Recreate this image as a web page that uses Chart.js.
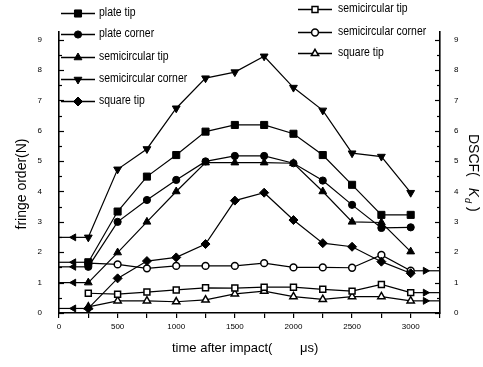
<!DOCTYPE html>
<html>
<head>
<meta charset="utf-8">
<script src="https://cdn.jsdelivr.net/npm/chart.js@4/dist/chart.umd.min.js"></script>
<style>
html,body{margin:0;padding:0;background:#fff;}
canvas{display:block;}
</style>
</head>
<body>
<canvas id="c" width="483" height="367"></canvas>
<script>
// ---- data ----
const categories = [250, 500, 750, 1000, 1250, 1500, 1750, 2000, 2250, 2500, 2750, 3000];
// fringe order (left axis, filled markers)
const plateTip           = [1.67, 3.34, 4.49, 5.20, 5.97, 6.19, 6.19, 5.90, 5.20, 4.22, 3.23, 3.23];
const plateCorner        = [1.52, 3.00, 3.72, 4.38, 4.99, 5.17, 5.17, 4.93, 4.36, 3.56, 2.80, 2.82];
const semicircularTip    = [1.00, 1.99, 3.00, 4.00, 4.95, 4.95, 4.95, 4.93, 4.00, 3.00, 2.98, 2.02];
const semicircularCorner = [2.49, 4.73, 5.40, 6.74, 7.73, 7.93, 8.45, 7.42, 6.67, 5.26, 5.15, 3.96];
const squareTip          = [0.15, 1.14, 1.71, 1.83, 2.27, 3.70, 3.96, 3.06, 2.30, 2.18, 1.69, 1.31];
// DSCF (right axis, open markers)
const semicircularTipDSCF    = [0.65, 0.62, 0.69, 0.76, 0.83, 0.82, 0.85, 0.85, 0.78, 0.72, 0.94, 0.67];
const semicircularCornerDSCF = [1.64, 1.60, 1.47, 1.55, 1.55, 1.55, 1.64, 1.50, 1.50, 1.49, 1.91, 1.39];
const squareTipDSCF          = [0.20, 0.40, 0.40, 0.37, 0.43, 0.63, 0.72, 0.54, 0.45, 0.54, 0.54, 0.40];

const xTicks = [0, 500, 1000, 1500, 2000, 2500, 3000];
const yTicks = [0, 1, 2, 3, 4, 5, 6, 7, 8, 9];
const xMin = 0, xMax = 3250, yMin = 0, yMax = 9.25;

// ---- build datasets ----
const pts = arr => arr.map((v, i) => ({x: categories[i], y: v}));
function series(label, arr, axis, style, rot, radius, filled) {
  return {
    label, data: pts(arr), yAxisID: axis,
    borderColor: '#000', borderWidth: 1.2,
    pointStyle: style, pointRotation: rot, pointRadius: radius, pointHoverRadius: radius,
    pointBackgroundColor: filled ? '#000' : '#fff', pointBorderColor: '#000',
    pointBorderWidth: filled ? 1 : 1.5, fill: false, tension: 0, isMain: true
  };
}
const mains = [
  series('plate tip', plateTip, 'y', 'rect', 0, 5, true),
  series('plate corner', plateCorner, 'y', 'circle', 0, 3.6, true),
  series('semicircular tip', semicircularTip, 'y', 'triangle', 0, 4.5, true),
  series('semicircular corner', semicircularCorner, 'y', 'triangle', 180, 4.5, true),
  series('square tip', squareTip, 'y', 'rectRot', 0, 4.5, true),
  series('semicircular tip', semicircularTipDSCF, 'y2', 'rect', 0, 4.2, false),
  series('semicircular corner', semicircularCornerDSCF, 'y2', 'circle', 0, 3.4, false),
  series('square tip', squareTipDSCF, 'y2', 'triangle', 0, 4.2, false)
];
// arrows pointing each curve to its axis (from the series' own end values)
function arrow(arr, axis, toLeft) {
  const first = toLeft ? categories[0] : categories[categories.length - 1];
  const v = toLeft ? arr[0] : arr[arr.length - 1];
  const end = toLeft ? xMin : xMax;
  const mid = (first + end) / 2;
  return {
    data: [{x: end, y: v}, {x: mid, y: v}, {x: first, y: v}], yAxisID: axis,
    borderColor: '#000', borderWidth: 1.2, pointStyle: 'triangle',
    pointRotation: toLeft ? -90 : 90, pointRadius: [0, 4, 0], pointHoverRadius: [0, 4, 0],
    pointBackgroundColor: '#000', pointBorderColor: '#000', pointBorderWidth: 1, fill: false
  };
}
const arrows = [
  arrow(plateTip, 'y', true), arrow(plateCorner, 'y', true), arrow(semicircularTip, 'y', true),
  arrow(semicircularCorner, 'y', true), arrow(squareTip, 'y', true),
  arrow(semicircularTipDSCF, 'y2', false), arrow(semicircularCornerDSCF, 'y2', false),
  arrow(squareTipDSCF, 'y2', false)
];

const FONT = "'Liberation Sans', Arial, sans-serif";

function narrowText(ctx, text, x, y, sx) {
  ctx.save(); ctx.translate(x, y); ctx.scale(sx, 1); ctx.fillText(text, 0, 0); ctx.restore();
}

// ---- custom drawing: inward ticks, legends, axis titles ----
const deco = {
  id: 'deco',
  afterDraw(chart) {
    const ctx = chart.ctx;
    const H = Chart.helpers;
    ctx.save();
    ctx.strokeStyle = '#000'; ctx.fillStyle = '#000'; ctx.lineWidth = 1.2;
    // inward ticks on both y axes
    const yl = chart.scales.y, yr = chart.scales.y2, ca = chart.chartArea;
    for (let v = yMin; v <= 9; v += 0.5) {
      const len = Number.isInteger(v) ? 5 : 3;
      const py = Math.round(yl.getPixelForValue(v)) + 0.5;
      ctx.beginPath(); ctx.moveTo(ca.left, py); ctx.lineTo(ca.left + len, py); ctx.stroke();
      const py2 = Math.round(yr.getPixelForValue(v)) + 0.5;
      ctx.beginPath(); ctx.moveTo(ca.right, py2); ctx.lineTo(ca.right - len, py2); ctx.stroke();
    }
    // legends
    ctx.font = '12px ' + FONT;
    ctx.textBaseline = 'middle'; ctx.textAlign = 'left';
    const leftY = [13, 34, 57, 79, 101];
    const rightY = [9, 32, 53];
    const main = chart.data.datasets.filter(d => d.isMain);
    main.forEach((ds, i) => {
      const isLeft = i < 5;
      const y = isLeft ? leftY[i] : rightY[i - 5];
      const x0 = isLeft ? 61 : 298, x1 = isLeft ? 95 : 332, xm = isLeft ? 78 : 315, xt = isLeft ? 99 : 338;
      ctx.lineWidth = 1.4; ctx.strokeStyle = '#000';
      ctx.beginPath(); ctx.moveTo(x0, y + 0.5); ctx.lineTo(x1, y + 0.5); ctx.stroke();
      ctx.fillStyle = ds.pointBackgroundColor; ctx.strokeStyle = '#000'; ctx.lineWidth = ds.pointBorderWidth;
      H.drawPoint(ctx, {pointStyle: ds.pointStyle, rotation: ds.pointRotation, radius: ds.pointRadius, borderWidth: ds.pointBorderWidth}, xm, y + 0.5);
      ctx.fillStyle = '#000';
      narrowText(ctx, ds.label, xt, y, 0.87);
    });
    // axis titles
    ctx.fillStyle = '#000';
    ctx.font = '14px ' + FONT;
    ctx.save(); ctx.translate(22, 184); ctx.rotate(-Math.PI / 2);
    ctx.textAlign = 'center'; ctx.textBaseline = 'middle';
    ctx.fillText('fringe order(N)', 0, 0); ctx.restore();

    ctx.font = '13px ' + FONT;
    ctx.textAlign = 'left'; ctx.textBaseline = 'middle';
    ctx.fillText('time after impact(', 172, 348);
    ctx.fillText('\u03BCs)', 300, 348);

    ctx.save(); ctx.translate(473, 134); ctx.rotate(Math.PI / 2);
    ctx.textAlign = 'left'; ctx.textBaseline = 'middle';
    let tx = 0;
    ctx.font = '14px ' + FONT; ctx.fillText('DSCF(', tx, 0); tx += ctx.measureText('DSCF(').width + 11;
    ctx.font = 'italic 14px ' + FONT; ctx.fillText('K', tx, 0); tx += ctx.measureText('K').width + 1;
    ctx.font = 'italic 9px ' + FONT; ctx.fillText('d', tx, 6); tx += ctx.measureText('d').width + 4;
    ctx.font = '14px ' + FONT; ctx.fillText(')', tx, 0);
    ctx.restore();
    ctx.restore();
  }
};

new Chart(document.getElementById('c'), {
  type: 'line',
  data: {datasets: mains.concat(arrows)},
  options: {
    responsive: false, animation: false, devicePixelRatio: 1,
    layout: {padding: {top: 32, left: 0, right: 0, bottom: 0}},
    plugins: {legend: {display: false}, tooltip: {enabled: false}},
    scales: {
      x: {
        type: 'linear', min: xMin, max: xMax,
        afterBuildTicks(s) { s.ticks = []; for (let v = xMin; v <= xMax; v += 250) s.ticks.push({value: v}); },
        ticks: {autoSkip: false, maxRotation: 0, color: '#000', font: {size: 8, family: FONT}, padding: 4,
          callback: v => xTicks.includes(v) ? String(v) : ''},
        grid: {display: true, drawOnChartArea: false, drawTicks: true, tickLength: 5, color: '#000', lineWidth: 1.2},
        border: {display: true, color: '#000', width: 1.6},
        afterFit(s) { s.height = 54; }
      },
      y: {
        position: 'left', min: yMin, max: yMax,
        afterBuildTicks(s) { s.ticks = yTicks.map(v => ({value: v})); },
        ticks: {color: '#000', font: {size: 8, family: FONT}, padding: 9, callback: v => String(v)},
        grid: {display: false},
        border: {display: true, color: '#000', width: 1.6},
        afterFit(s) { s.width = 59; }
      },
      y2: {
        position: 'right', min: yMin, max: yMax,
        afterBuildTicks(s) { s.ticks = yTicks.map(v => ({value: v})); },
        ticks: {color: '#000', font: {size: 8, family: FONT}, padding: 6, callback: v => String(v)},
        grid: {display: false},
        border: {display: true, color: '#000', width: 1.6},
        afterFit(s) { s.width = 43; }
      }
    }
  },
  plugins: [deco]
});
</script>
</body>
</html>
